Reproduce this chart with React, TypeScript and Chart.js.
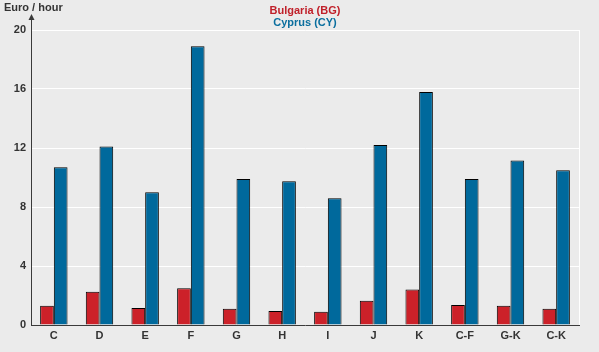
import { useEffect, useRef } from 'react';
import { Chart, registerables } from 'chart.js';

Chart.register(...registerables);

const categories = ['C', 'D', 'E', 'F', 'G', 'H', 'I', 'J', 'K', 'C-F', 'G-K', 'C-K'];
const bulgaria = [1.3, 2.25, 1.15, 2.5, 1.1, 0.95, 0.9, 1.65, 2.4, 1.35, 1.3, 1.1];
const cyprus = [10.7, 12.1, 9.0, 18.9, 9.9, 9.75, 8.6, 12.2, 15.8, 9.9, 11.15, 10.5];
const yTicks = [0, 4, 8, 12, 16, 20];
const seriesNames = ['Bulgaria (BG)', 'Cyprus (CY)'];
const seriesColors = ['#cc2129', '#00699c'];
const legendColors = ['#c0202a', '#0a6e9e'];
const yAxisTitle = 'Euro / hour';

const FONT = '"Liberation Sans", Arial, sans-serif';
const BG = '#ebebeb';
const AXIS = '#3a3a3a';
const TEXT = '#333333';

const decorPlugin = {
  id: 'decor',
  beforeDraw(chart: any) {
    const ctx = chart.ctx;
    ctx.save();
    ctx.fillStyle = BG;
    ctx.fillRect(0, 0, chart.width, chart.height);
    ctx.restore();
  },
  beforeDatasetsDraw(chart: any) {
    const { ctx, chartArea } = chart;
    ctx.save();
    ctx.strokeStyle = '#ffffff';
    ctx.lineWidth = 1;
    ctx.beginPath();
    const x = Math.round(chartArea.right) + 0.5;
    ctx.moveTo(x, chartArea.top);
    ctx.lineTo(x, chartArea.bottom);
    ctx.stroke();
    ctx.restore();
  },
  afterDraw(chart: any) {
    const { ctx, chartArea } = chart;
    ctx.save();
    // y axis arrow
    const ax = Math.round(chartArea.left) + 0.5;
    ctx.strokeStyle = AXIS;
    ctx.fillStyle = AXIS;
    ctx.lineWidth = 1;
    ctx.beginPath();
    ctx.moveTo(ax, chartArea.top);
    ctx.lineTo(ax, 18);
    ctx.stroke();
    ctx.beginPath();
    ctx.moveTo(ax, 14);
    ctx.lineTo(ax - 3, 20);
    ctx.lineTo(ax + 3, 20);
    ctx.closePath();
    ctx.fill();
    // axis title
    ctx.font = `bold 11px ${FONT}`;
    ctx.fillStyle = TEXT;
    ctx.textAlign = 'left';
    ctx.textBaseline = 'middle';
    ctx.fillText(yAxisTitle, 4, 8);
    // legend
    const cx = (chartArea.left + chartArea.right) / 2;
    ctx.textAlign = 'center';
    ctx.fillStyle = legendColors[0];
    ctx.fillText(seriesNames[0], cx, 11);
    ctx.fillStyle = legendColors[1];
    ctx.fillText(seriesNames[1], cx, 23);
    ctx.restore();
  },
};

export default function App() {
  const ref = useRef<HTMLCanvasElement>(null);

  useEffect(() => {
    if (!ref.current) return;
    const chart = new Chart(ref.current, {
      type: 'bar',
      data: {
        labels: categories,
        datasets: [
          {
            label: seriesNames[0],
            data: bulgaria,
            backgroundColor: seriesColors[0],
            borderColor: '#000000',
            borderWidth: 1,
            borderSkipped: 'bottom',
          },
          {
            label: seriesNames[1],
            data: cyprus,
            backgroundColor: seriesColors[1],
            borderColor: '#000000',
            borderWidth: 1,
            borderSkipped: 'bottom',
          },
        ],
      },
      options: {
        animation: false,
        responsive: false,
        events: [],
        layout: { padding: { top: 30, right: 20, left: 0, bottom: 0 } },
        datasets: { bar: { categoryPercentage: 0.6, barPercentage: 1.0 } },
        plugins: {
          legend: { display: false },
          tooltip: { enabled: false },
          title: { display: false },
        },
        scales: {
          x: {
            grid: { display: false, drawTicks: false },
            border: { display: true, color: AXIS, width: 1 },
            ticks: {
              color: TEXT,
              padding: 4,
              font: { family: FONT, size: 11, weight: 'bold' },
              maxRotation: 0,
              autoSkip: false,
            },
            afterFit(scale: any) {
              scale.height = 27;
            },
          },
          y: {
            min: 0,
            max: 20,
            grid: { color: '#ffffff', lineWidth: 1, drawTicks: false },
            border: { display: true, color: AXIS, width: 1 },
            ticks: {
              color: TEXT,
              padding: 5,
              font: { family: FONT, size: 11, weight: 'bold' },
            },
            afterBuildTicks(scale: any) {
              scale.ticks = yTicks.map((v) => ({ value: v }));
            },
            afterFit(scale: any) {
              scale.width = 31;
            },
          },
        },
      },
      plugins: [decorPlugin],
    } as any);
    return () => chart.destroy();
  }, []);

  return (
    <div style={{ position: 'fixed', left: 0, top: 0, width: 599, height: 352, background: BG }}>
      <canvas ref={ref} width={599} height={352} style={{ display: 'block', width: 599, height: 352 }} />
    </div>
  );
}
